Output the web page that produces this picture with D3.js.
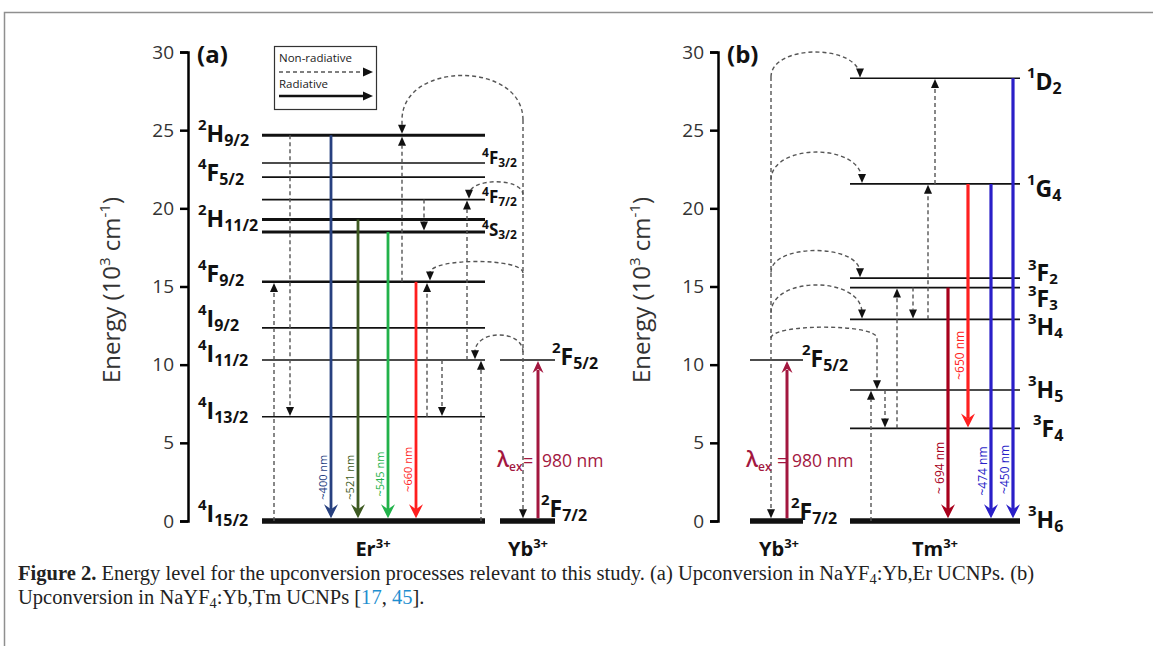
<!DOCTYPE html>
<html>
<head>
<meta charset="utf-8">
<script src="https://cdn.jsdelivr.net/npm/d3@7"></script>
<style>
  body { margin: 0; background: #fff; }
  svg text { font-family: "Open Sans", sans-serif; }
</style>
</head>
<body>
<div id="chart"></div>
<script>
// energies in 10^3 cm^-1
const ticks = [0, 5, 10, 15, 20, 25, 30];

const erLevels = ["4I15/2", "4I13/2", "4I11/2", "4I9/2", "4F9/2", "4S3/2", "2H11/2", "4F7/2", "4F5/2", "4F3/2", "2H9/2"];
const erEnergy = [0, 6.67, 10.3, 12.35, 15.3, 18.49, 19.28, 20.56, 22.0, 22.9, 24.68];
const ybLevels = ["2F7/2", "2F5/2"];
const ybEnergy = [0, 10.3];
const tmLevels = ["3H6", "3F4", "3H5", "3H4", "3F3", "3F2", "1G4", "1D2"];
const tmEnergy = [0, 5.93, 8.38, 12.9, 14.93, 15.53, 21.56, 28.32];

// radiative emissions: [label, from, to]
const erEmission = [["~400 nm", "2H9/2", "4I15/2"], ["~521 nm", "2H11/2", "4I15/2"], ["~545 nm", "4S3/2", "4I15/2"], ["~660 nm", "4F9/2", "4I15/2"]];
const tmEmission = [["~ 694 nm", "3F3", "3H6"], ["~650 nm", "1G4", "3F4"], ["~474 nm", "1G4", "3H6"], ["~450 nm", "1D2", "3H6"]];

// non-radiative steps inside one ion: [from, to]
const erSteps = [["2H9/2", "4I13/2"], ["4I15/2", "4F9/2"], ["4F9/2", "2H9/2"], ["4F7/2", "4S3/2"], ["4I11/2", "4F7/2"], ["4I13/2", "4F9/2"], ["4I11/2", "4I13/2"], ["4I15/2", "4I11/2"]];
const tmSteps = [["3H6", "3H5"], ["3H5", "3F4"], ["3F4", "3F3"], ["3F3", "3H4"], ["3H4", "1G4"], ["1G4", "1D2"]];

// Yb -> ion energy transfer: [target, energy where it leaves the Yb line, apex energy]
const erTransfer = [["2H9/2", 25.65, 28.5], ["4F7/2", 20.86, 21.7], ["4F9/2", 15.87, 16.6], ["4I11/2", 10.8, 11.9]];
const tmTransfer = [["1D2", 28.4, 30.0], ["1G4", 21.8, 23.6], ["3F2", 15.9, 17.3], ["3H4", 13.3, 15.1], ["3H5", 11.7, 12.4]];

const W = 1153, H = 646;
const svg = d3.select("#chart").append("svg").attr("width", W).attr("height", H);
const y = d3.scaleLinear().domain([0, 30]).range([521, 52]);

// page frame
svg.append("path").attr("d", "M4.5,646V12.5H1153").attr("fill", "none").attr("stroke", "#8f8f8f").attr("stroke-width", 1.5);

function head(g, x, yy, ang, w, l, notch, color) {
  g.append("path")
    .attr("d", `M0,0L${-l},${-w / 2}L${-l + notch},0L${-l},${w / 2}Z`)
    .attr("transform", `translate(${x},${yy}) rotate(${ang})`)
    .attr("fill", color);
}

// term symbol like 2H9/2 -> superscript 2, H, subscript 9/2
function term(g, x, yb, name, s) {
  const t = g.append("text").attr("x", x).attr("y", yb).attr("font-weight", 700).attr("fill", "#111");
  t.append("tspan").attr("font-size", s[1]).attr("dy", -s[3]).text(name[0]);
  t.append("tspan").attr("font-size", s[0]).attr("dy", s[3]).text(name[1]);
  t.append("tspan").attr("font-size", s[2]).attr("dy", s[4]).text(name.slice(2));
}

function ionLabel(g, x, name) {
  const t = g.append("text").attr("x", x).attr("y", 556).attr("text-anchor", "middle")
    .attr("font-weight", 700).attr("fill", "#111");
  t.append("tspan").attr("font-size", 20).text(name);
  t.append("tspan").attr("font-size", 13).attr("dy", -8).text("3+");
}

const dash = "4,3";
const big = [23, 15, 16, 12, 4];

function panel(cfg) {
  const g = svg.append("g");
  const lev = {};
  cfg.levels.forEach((n, i) => lev[n] = cfg.energy[i]);
  const ybLev = {};
  ybLevels.forEach((n, i) => ybLev[n] = ybEnergy[i]);
  const lw = n => cfg.widths[n] || 1.7;

  // axis
  const ax = g.append("g").attr("transform", `translate(${cfg.axisX},0)`)
    .call(d3.axisLeft(y).tickValues(ticks).tickSize(8).tickPadding(6));
  ax.attr("font-family", "Open Sans, sans-serif").attr("font-size", 19);
  ax.select(".domain").attr("stroke", "#000").attr("stroke-width", 2.5);
  ax.selectAll(".tick line").attr("stroke", "#000").attr("stroke-width", 2.5);
  ax.selectAll(".tick text").attr("fill", "#333");

  const yl = g.append("text")
    .attr("transform", `translate(${cfg.axisX - 68},290) rotate(-90)`)
    .attr("text-anchor", "middle").attr("font-size", 24).attr("fill", "#333");
  yl.append("tspan").text("Energy (10");
  yl.append("tspan").attr("font-size", 15).attr("dy", -10).text("3");
  yl.append("tspan").attr("dy", 10).text(" cm");
  yl.append("tspan").attr("font-size", 15).attr("dy", -10).text("-1");
  yl.append("tspan").attr("dy", 10).text(")");

  g.append("text").attr("x", cfg.axisX + 9).attr("y", 63).attr("font-size", 24)
    .attr("font-weight", 700).attr("fill", "#111").text(cfg.tag);

  // levels
  cfg.levels.forEach(n => {
    g.append("line").attr("x1", cfg.ionX[0]).attr("x2", cfg.ionX[1])
      .attr("y1", y(lev[n])).attr("y2", y(lev[n]))
      .attr("stroke", "#111").attr("stroke-width", lw(n));
  });
  ybLevels.forEach((n, i) => {
    g.append("line").attr("x1", cfg.ybX[0]).attr("x2", cfg.ybX[1])
      .attr("y1", y(ybLev[n])).attr("y2", y(ybLev[n]))
      .attr("stroke", "#111").attr("stroke-width", i === 0 ? 5.5 : 1.7);
  });

  // non-radiative steps
  cfg.steps.forEach((s, i) => {
    const x = cfg.stepX[i];
    const y0 = y(lev[s[0]]), y1 = y(lev[s[1]]);
    const up = y1 < y0;
    const tip = up ? y1 + lw(s[1]) / 2 : y1 - lw(s[1]) / 2;
    const end = up ? tip + 9 : tip - 9;
    g.append("line").attr("x1", x).attr("x2", x).attr("y1", y0).attr("y2", end)
      .attr("stroke", "#555").attr("stroke-width", 1.4).attr("stroke-dasharray", dash);
    head(g, x, tip, up ? -90 : 90, 8, 9, 0, "#111");
  });

  // Yb relaxation line and energy transfer arcs
  const xs = cfg.ybLineX;
  const yTop = y(cfg.transfer[0][1]);
  const ybTip = y(0) - 2.75;
  g.append("line").attr("x1", xs).attr("x2", xs).attr("y1", yTop).attr("y2", ybTip - 9)
    .attr("stroke", "#555").attr("stroke-width", 1.4).attr("stroke-dasharray", dash);
  head(g, xs, ybTip, 90, 8, 9, 0, "#111");

  cfg.transfer.forEach((t, i) => {
    const xe = cfg.transferX[i];
    const ys = y(t[1]), ya = y(t[2]);
    const c = (ya - 0.25 * ys) / 0.75;
    const tip = y(lev[t[0]]) - lw(t[0]) / 2;
    let d = `M${xs},${ys}C${xs},${c} ${xe},${c} ${xe},${ys}`;
    if (tip - 9 > ys) d += `L${xe},${tip - 9}`;
    g.append("path").attr("d", d).attr("fill", "none").attr("stroke", "#555")
      .attr("stroke-width", 1.4).attr("stroke-dasharray", dash);
    head(g, xe, tip, 90, 8, 9, 0, "#111");
  });

  // radiative emissions
  cfg.emission.forEach((e, i) => {
    const x = cfg.emX[i], col = cfg.emColor[i];
    const y0 = y(lev[e[1]]);
    const tip = y(lev[e[2]]) - lw(e[2]) / 2;
    g.append("line").attr("x1", x).attr("x2", x).attr("y1", y0).attr("y2", tip - 9)
      .attr("stroke", col).attr("stroke-width", cfg.emWidth);
    head(g, x, tip, 90, 14, 14, 5, col);
    g.append("text")
      .attr("transform", `translate(${x - 8},${y(cfg.emLabelE[i])}) rotate(-90)`)
      .attr("text-anchor", "middle").attr("dy", "0.35em")
      .attr("font-size", cfg.emFont).attr("fill", col).text(e[0]);
  });

  // 980 nm excitation of Yb
  const crim = "#a3173f";
  const ex = cfg.exX, exTip = y(ybLev["2F5/2"]) + 1;
  g.append("line").attr("x1", ex).attr("x2", ex).attr("y1", y(0) - 2.75).attr("y2", exTip + 9)
    .attr("stroke", crim).attr("stroke-width", 3);
  head(g, ex, exTip, -90, 11, 12, 4, crim);
  const lt = g.append("text").attr("x", cfg.lambdaX[0]).attr("y", 467).attr("fill", crim).attr("font-weight", 600);
  lt.append("tspan").attr("font-size", 21).text("λ");
  lt.append("tspan").attr("font-size", 12).attr("dy", 4).text("ex");
  g.append("text").attr("x", cfg.lambdaX[1]).attr("y", 467).attr("fill", crim).attr("font-size", 18).text("=");
  g.append("text").attr("x", cfg.lambdaX[2]).attr("y", 467).attr("fill", crim).attr("font-size", 17.5).text("980 nm");

  // level labels
  cfg.labels.forEach(l => term(g, l[1], y(l[3] ? ybLev[l[0]] : lev[l[0]]) + l[2], l[0], l[4] || big));

  ionLabel(g, cfg.ionLabelX[0], cfg.ionName);
  ionLabel(g, cfg.ionLabelX[1], "Yb");
  return g;
}

const small = [17, 12, 12, 7, 3];
const tight = [23, 15, 15, 11, 3];

panel({
  tag: "(a)", axisX: 188, levels: erLevels, energy: erEnergy,
  ionX: [262, 485], ybX: [500, 555],
  widths: { "4I15/2": 5.5, "2H9/2": 3, "2H11/2": 3, "4S3/2": 3, "4F9/2": 2.6 },
  steps: erSteps, stepX: [290, 274, 402, 424, 467, 427, 442, 481],
  ybLineX: 523, transfer: erTransfer, transferX: [402, 469, 430, 475],
  emission: erEmission, emX: [331, 358, 388, 416],
  emColor: ["#27407f", "#3e5a22", "#22b24a", "#ff1e1e"], emWidth: 2.8, emFont: 11,
  emLabelE: [2.8, 2.8, 3.0, 3.3],
  exX: 538, lambdaX: [497, 523, 542],
  labels: [
    ["2H9/2", 198, 7], ["4F5/2", 198, 4], ["2H11/2", 198, 7], ["4F9/2", 198, 0],
    ["4I9/2", 198, -1], ["4I11/2", 198, 2], ["4I13/2", 198, 2], ["4I15/2", 198, 1],
    ["4F3/2", 482, 1, false, small], ["4F7/2", 482, 3, false, small], ["4S3/2", 482, 4, false, small],
    ["2F5/2", 552, 5, true], ["2F7/2", 541, -4, true]
  ],
  ionName: "Er", ionLabelX: [373, 528]
});

panel({
  tag: "(b)", axisX: 718, levels: tmLevels, energy: tmEnergy,
  ionX: [850, 1020], ybX: [750, 803],
  widths: { "3H6": 5.5 },
  steps: tmSteps, stepX: [871, 885, 897, 913, 928, 935],
  ybLineX: 771, transfer: tmTransfer, transferX: [860, 862, 860, 862, 877],
  emission: tmEmission, emX: [948, 968, 991, 1013],
  emColor: ["#a8001c", "#ff2020", "#2a1fc8", "#2a1fc8"], emWidth: 3.2, emFont: 12,
  emLabelE: [3.4, 10.6, 3.2, 3.3],
  exX: 787, lambdaX: [746, 777, 792],
  labels: [
    ["1D2", 1027, 12], ["1G4", 1027, 13], ["3F2", 1028, 3, false, tight], ["3F3", 1028, 19, false, tight],
    ["3H4", 1028, 16, false, tight], ["3H5", 1028, 8], ["3F4", 1033, 9], ["3H6", 1028, 7],
    ["2F5/2", 802, 7, true], ["2F7/2", 791, -1, true]
  ],
  ionName: "Tm", ionLabelX: [935, 779]
});

// legend in panel (a)
const lg = svg.append("g");
lg.append("rect").attr("x", 274.5).attr("y", 46.5).attr("width", 102).attr("height", 63)
  .attr("fill", "#fff").attr("stroke", "#333").attr("stroke-width", 1.2);
lg.append("text").attr("x", 279).attr("y", 62).attr("font-size", 11.5).attr("fill", "#222").text("Non-radiative");
lg.append("line").attr("x1", 279).attr("x2", 364).attr("y1", 72).attr("y2", 72)
  .attr("stroke", "#555").attr("stroke-width", 1.4).attr("stroke-dasharray", dash);
head(lg, 373, 72, 0, 9, 10, 0, "#111");
lg.append("text").attr("x", 279).attr("y", 88).attr("font-size", 11.5).attr("fill", "#222").text("Radiative");
lg.append("line").attr("x1", 279).attr("x2", 364).attr("y1", 96).attr("y2", 96)
  .attr("stroke", "#111").attr("stroke-width", 2.5);
head(lg, 373, 96, 0, 9, 10, 0, "#111");

// caption
const cap = svg.append("g").attr("fill", "#222");
const c1 = cap.append("text").attr("x", 18).attr("y", 580).style("font-family", "Liberation Serif, serif");
c1.append("tspan").attr("font-weight", 700).text("Figure 2.");
c1.append("tspan").text(" Energy level for the upconversion processes relevant to this study. (a) Upconversion in NaYF");
c1.append("tspan").attr("font-size", "0.7em").attr("dy", 4).text("4");
c1.append("tspan").attr("dy", -4).text(":Yb,Er UCNPs. (b)");
const c2 = cap.append("text").attr("x", 18).attr("y", 604).style("font-family", "Liberation Serif, serif");
c2.append("tspan").text("Upconversion in NaYF");
c2.append("tspan").attr("font-size", "0.7em").attr("dy", 4).text("4");
c2.append("tspan").attr("dy", -4).text(":Yb,Tm UCNPs [");
c2.append("tspan").attr("fill", "#1f8fd0").text("17");
c2.append("tspan").text(", ");
c2.append("tspan").attr("fill", "#1f8fd0").text("45");
c2.append("tspan").text("].");

// fit caption font to the printed line width
let fs = 19;
cap.attr("font-size", fs);
const len1 = c1.node().getComputedTextLength();
fs = fs * 1017 / len1;
cap.attr("font-size", fs);
</script>
</body>
</html>
